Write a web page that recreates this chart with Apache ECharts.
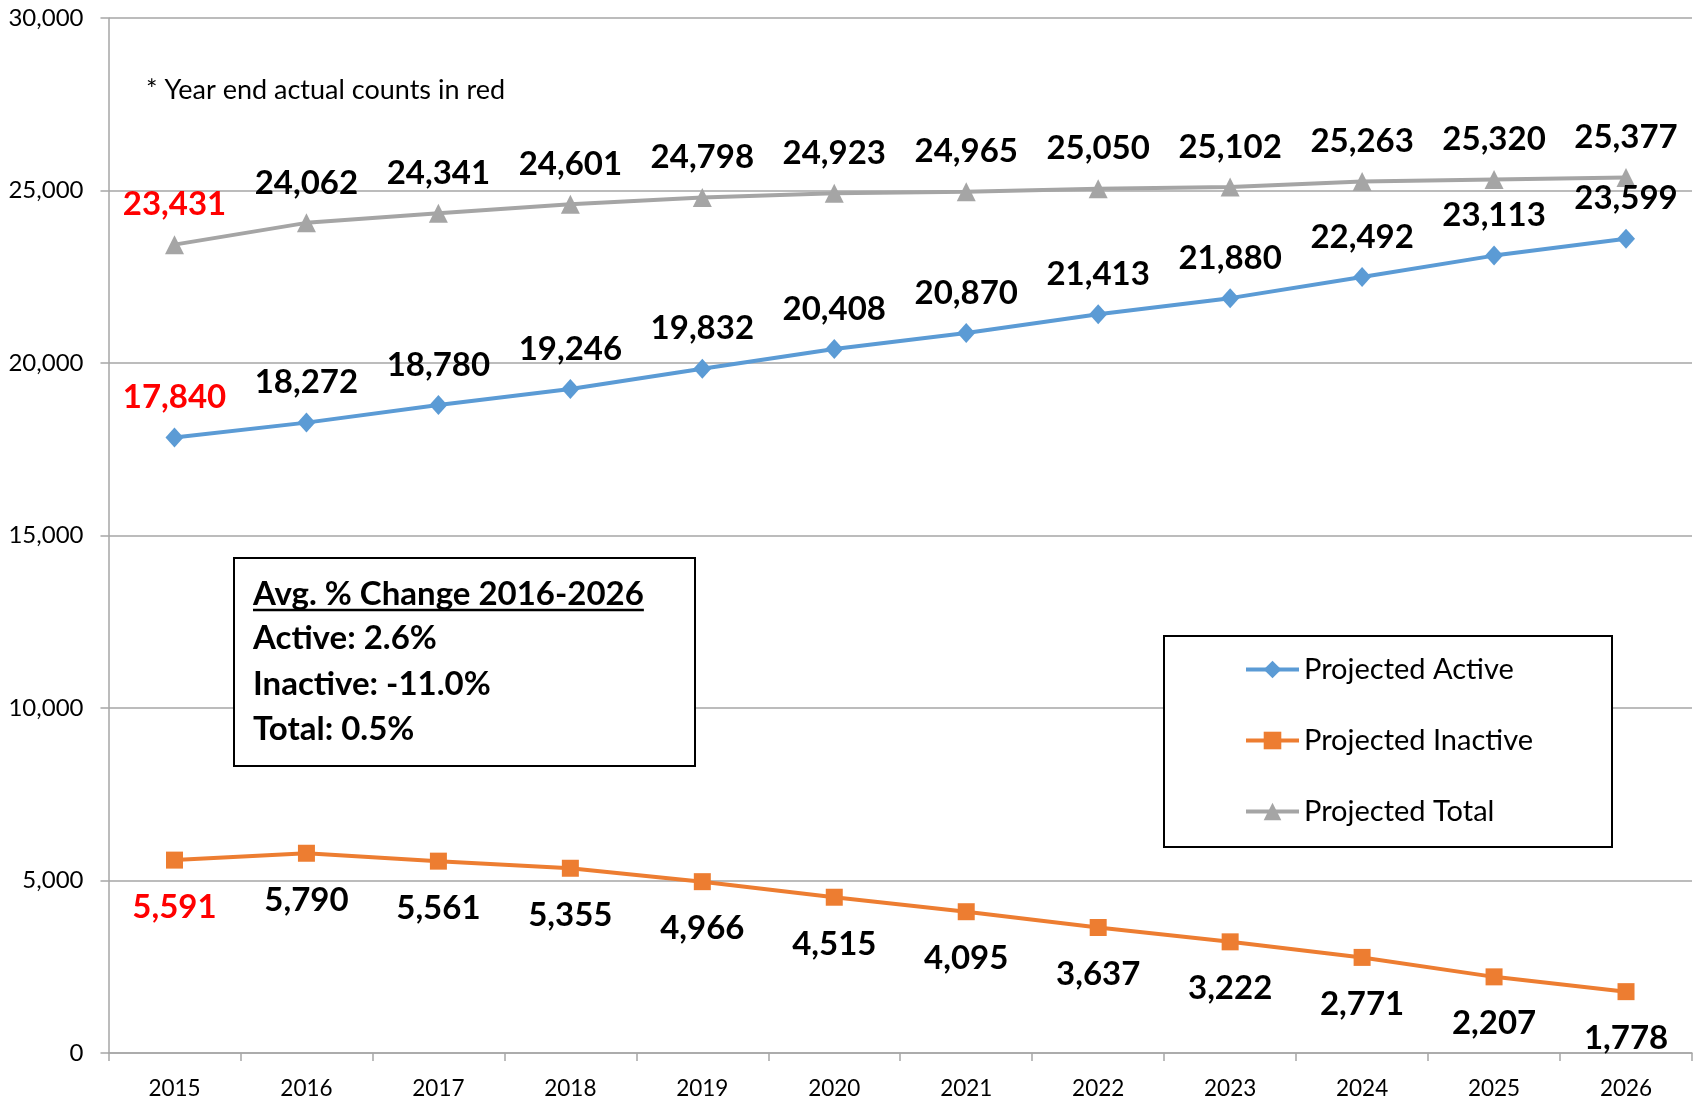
<!DOCTYPE html>
<html><head><meta charset="utf-8">
<script src="https://cdn.jsdelivr.net/npm/echarts@6/dist/echarts.min.js"></script>
<style>html,body{margin:0;padding:0;background:#fff}#c{width:1702px;height:1102px}</style>
</head><body><div id="c"></div>
<script>
const years = ['2015','2016','2017','2018','2019','2020','2021','2022','2023','2024','2025','2026'];
const activeValues = [17840,18272,18780,19246,19832,20408,20870,21413,21880,22492,23113,23599];
const inactiveValues = [5591,5790,5561,5355,4966,4515,4095,3637,3222,2771,2207,1778];
const totalValues = [23431,24062,24341,24601,24798,24923,24965,25050,25102,25263,25320,25377];
const actualYearIndex = 0; // year-end actual counts shown in red
const seriesNames = ['Projected Active','Projected Inactive','Projected Total'];
const yMin = 0, yMax = 30000, yInterval = 5000;
const noteText = '* Year end actual counts in red';
const boxLines = ['Avg. % Change 2016-2026','Active: 2.6%','Inactive: -11.0%','Total: 0.5%'];

const FONT = 'Lato, "Open Sans", sans-serif';
const fmt = v => Number(v).toLocaleString('en-US');

function buildData(vals){
  return vals.map((v,i)=> i===actualYearIndex ? {value:v, label:{color:'#FF0000'}} : v);
}
function measure(text, font){
  const c = document.createElement('canvas').getContext('2d');
  c.font = font; return c.measureText(text).width;
}

const chart = echarts.init(document.getElementById('c'), null, {renderer:'canvas'});
const labelBase = {show:true, position:'inside', fontFamily:FONT, fontWeight:'bold', fontSize:33, color:'#000', formatter: p => fmt(p.value)};

const boxX = 234, boxY = 558, boxW = 461, boxH = 208;
const textX = 253;
const lineYs = [594, 638, 684, 729];
const boxFont = 'bold 33px Lato';
const underlineW = measure(boxLines[0], boxFont);

const graphics = [
  {type:'rect', shape:{x:boxX, y:boxY, width:boxW, height:boxH}, style:{fill:'#fff', stroke:'#000', lineWidth:2}, z:10},
  {type:'rect', shape:{x:1164, y:636, width:448, height:211}, style:{fill:'#fff', stroke:'#000', lineWidth:2}, z:10},
  {type:'text', x:146, y:90, style:{text:noteText, font:'27px Lato', fill:'#000', verticalAlign:'middle'}, z:11},
  {type:'line', shape:{x1:textX, y1:610, x2:textX+underlineW, y2:610}, style:{stroke:'#000', lineWidth:2.5}, z:11}
];
boxLines.forEach((t,i)=>{
  graphics.push({type:'text', x:textX, y:lineYs[i], style:{text:t, font:boxFont, fill:'#000', verticalAlign:'middle'}, z:11});
});

chart.setOption({
  animation:false,
  backgroundColor:'#fff',
  grid:{left:108.5, right:10, top:18, bottom:49, containLabel:false, outerBoundsMode:'none'},
  legend:{
    orient:'vertical', left:1244, top:655, padding:0, itemWidth:53, itemHeight:22, itemGap:42,
    textStyle:{fontFamily:FONT, fontSize:29, color:'#000'}, z:12,
    lineStyle:{width:4},
    data: seriesNames
  },
  xAxis:{
    type:'category', data:years, boundaryGap:true,
    axisLine:{show:true, lineStyle:{color:'#A6A6A6', width:1.5}},
    axisTick:{show:true, alignWithLabel:false, length:8, lineStyle:{color:'#A6A6A6', width:1.5}},
    axisLabel:{fontFamily:FONT, fontSize:22.5, color:'#000', margin:24}
  },
  yAxis:{
    type:'value', min:yMin, max:yMax, interval:yInterval,
    axisLine:{show:true, lineStyle:{color:'#A6A6A6', width:1.5}},
    axisTick:{show:true, length:8, lineStyle:{color:'#A6A6A6', width:1.5}},
    splitLine:{show:true, lineStyle:{color:'#A6A6A6', width:1.5}},
    axisLabel:{fontFamily:FONT, fontSize:24, color:'#000', margin:25, formatter:v=>fmt(v)}
  },
  series:[
    {name:seriesNames[0], type:'line', data:buildData(activeValues), symbol:'diamond', symbolSize:[18,20],
     lineStyle:{color:'#5B9BD5', width:4}, itemStyle:{color:'#5B9BD5'},
     label:Object.assign({}, labelBase, {offset:[0,-40]}), z:3},
    {name:seriesNames[1], type:'line', data:buildData(inactiveValues), symbol:'rect', symbolSize:17,
     lineStyle:{color:'#ED7D31', width:4}, itemStyle:{color:'#ED7D31'},
     label:Object.assign({}, labelBase, {offset:[0,47]}), z:3},
    {name:seriesNames[2], type:'line', data:buildData(totalValues), symbol:'triangle', symbolSize:19,
     lineStyle:{color:'#A5A5A5', width:4}, itemStyle:{color:'#A5A5A5'},
     label:Object.assign({}, labelBase, {offset:[0,-40]}), z:3}
  ],
  graphic: graphics
});
</script>
</body></html>
